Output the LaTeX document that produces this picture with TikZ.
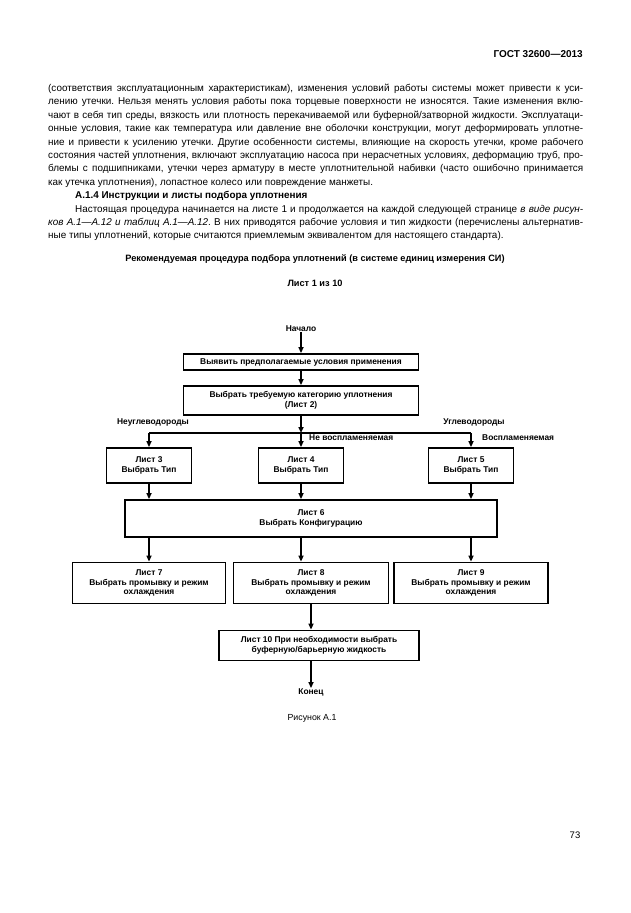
\documentclass[tikz,border=0pt]{standalone}
\usepackage{fontspec}
\setmainfont{Liberation Sans}
\usetikzlibrary{
    positioning,
    arrows.meta,
    calc
  }
\tikzstyle{blok}=[draw, line width=1.8pt, align=center, inner sep=1pt, font=\fontsize{8.4}{9.8}\selectfont\bfseries]
\tikzstyle{strel}=[line width=1.8pt, -{Triangle[length=6pt, width=5pt]}]
\tikzstyle{metka}=[font=\fontsize{8.4}{9.8}\selectfont\bfseries, inner sep=0pt]

\begin{document}
\begin{tikzpicture}[x=1pt, y=-1pt]
  \useasboundingbox (0,0) rectangle (630,913);
  \node[anchor=east, inner sep=0, font=\fontsize{10}{12}\selectfont\bfseries] (gost) at (583,54) {ГОСТ 32600—2013};
  \node[anchor=north west, inner sep=0, text width=535pt, align=justify, font=\fontsize{9.9}{13.4}\selectfont] (tekst) at (48,84) {%
    \hyphenpenalty=10000 \tolerance=10000 \frenchspacing \setlength\parindent{27pt}%
    \noindent(соответствия эксплуатационным характеристикам), изменения условий работы системы может привести к уси-\linebreak
    лению утечки. Нельзя менять условия работы пока торцевые поверхности не износятся. Такие изменения вклю-\linebreak
    чают в себя тип среды, вязкость или плотность перекачиваемой или буферной/затворной жидкости. Эксплуатаци-\linebreak
    онные условия, такие как температура или давление вне оболочки конструкции, могут деформировать уплотне-\linebreak
    ние и привести к усилению утечки. Другие особенности системы, влияющие на скорость утечки, кроме рабочего\linebreak
    состояния частей уплотнения, включают эксплуатацию насоса при нерасчетных условиях, деформацию труб, про-\linebreak
    блемы с подшипниками, утечки через арматуру в месте уплотнительной набивки (часто ошибочно принимается\linebreak
    как утечка уплотнения), лопастное колесо или повреждение манжеты.\par
    \textbf{А.1.4 Инструкции и листы подбора уплотнения}\par
    Настоящая процедура начинается на листе 1 и продолжается на каждой следующей странице \textit{в виде рисун-}\linebreak
    \textit{ков А.1—А.12 и таблиц А.1—А.12}. В них приводятся рабочие условия и тип жидкости (перечислены альтернатив-\linebreak
    ные типы уплотнений, которые считаются приемлемым эквивалентом для настоящего стандарта).\par};
  \node[inner sep=0, font=\fontsize{9.2}{11}\selectfont\bfseries] (zagl) at (315,259) {Рекомендуемая процедура подбора уплотнений (в системе единиц измерения СИ)};
  \node[inner sep=0, font=\fontsize{9.2}{11}\selectfont\bfseries] (list) at (315,283) {Лист 1 из 10};

  \node[metka] (nachalo) at (301,329) {Начало};
  \node[blok, minimum width=235pt, minimum height=16pt] (b1) at (301,362) {Выявить предполагаемые условия применения};
  \node[blok, minimum width=235pt, minimum height=29pt] (b2) at (301,400.5) {Выбрать требуемую категорию уплотнения\\(Лист 2)};
  \node[blok, minimum width=85pt, minimum height=35pt] (b3) at (149,465.5) {Лист 3\\Выбрать Тип};
  \node[blok, minimum width=85pt, minimum height=35pt] (b4) at (301,465.5) {Лист 4\\Выбрать Тип};
  \node[blok, minimum width=85pt, minimum height=35pt] (b5) at (471,465.5) {Лист 5\\Выбрать Тип};
  \node[blok, minimum width=372pt, minimum height=37pt] (b6) at (311,518.5) {Лист 6\\Выбрать Конфигурацию};
  \node[blok, minimum width=153pt, minimum height=41pt] (b7) at (149,583) {Лист 7\\Выбрать промывку и режим\\охлаждения};
  \node[blok, minimum width=155pt, minimum height=41pt] (b8) at (311,583) {Лист 8\\Выбрать промывку и режим\\охлаждения};
  \node[blok, minimum width=154pt, minimum height=41pt] (b9) at (471,583) {Лист 9\\Выбрать промывку и режим\\охлаждения};
  \node[blok, minimum width=200pt, minimum height=30pt] (b10) at (319,645.5) {Лист 10 При необходимости выбрать\\буферную/барьерную жидкость};
  \node[metka] (konec) at (311,692) {Конец};
  \node[inner sep=0, font=\fontsize{8.8}{10}\selectfont] (ris) at (312,718) {Рисунок А.1};
  \node[inner sep=0, font=\fontsize{9.5}{11}\selectfont] (str) at (575,835) {73};

  \node[metka] (neugl) at (153,422) {Неуглеводороды};
  \node[metka] (ugl) at (474,422) {Углеводороды};
  \node[metka, anchor=west] (nevosp) at (309,438) {Не воспламеняемая};
  \node[metka, anchor=west] (vosp) at (482,438) {Воспламеняемая};

  \coordinate (razv) at (b2.south |- 0,433);
  \draw[strel] (nachalo) -- (b1);
  \draw[strel] (b1) -- (b2);
  \draw[strel] (b2) -- (razv);
  \draw[line width=1.8pt] (razv -| b3) -- (razv -| b5);
  \draw[strel] (razv -| b3) -- (b3);
  \draw[strel] (razv) -- (b4);
  \draw[strel] (razv -| b5) -- (b5);
  \draw[strel] (b3) -- (b3 |- b6.north);
  \draw[strel] (b4) -- (b4 |- b6.north);
  \draw[strel] (b5) -- (b5 |- b6.north);
  \draw[strel] (b6.south -| b7) -- (b7);
  \draw[strel] (b6.south -| b4) -- (b8.north -| b4);
  \draw[strel] (b6.south -| b9) -- (b9);
  \draw[strel] (b8) -- (b8 |- b10.north);
  \draw[strel] (b10.south -| b8) -- (konec);
\end{tikzpicture}
\end{document}
